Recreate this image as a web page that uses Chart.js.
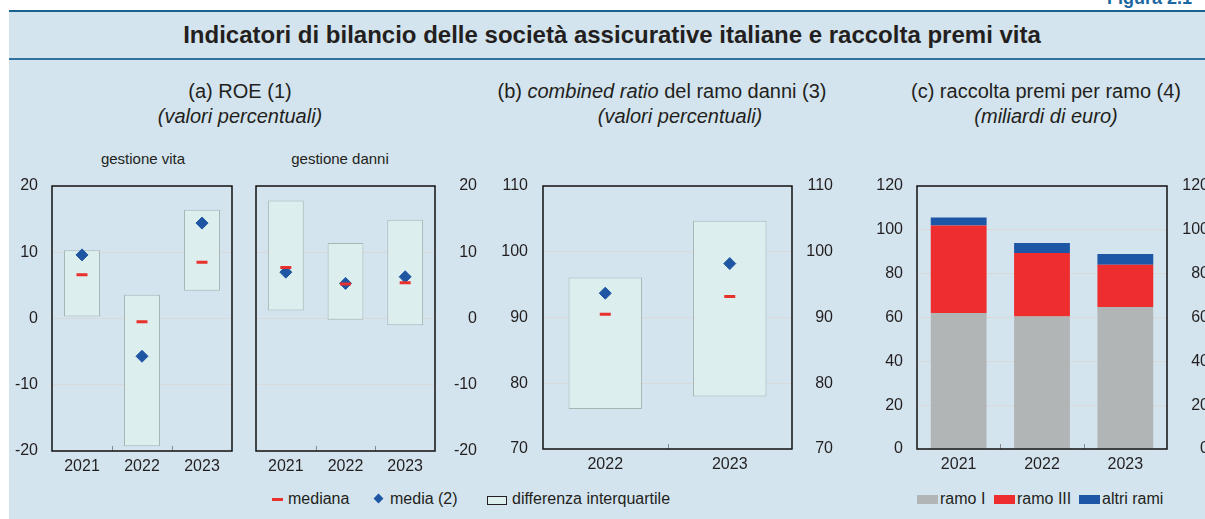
<!DOCTYPE html>
<html>
<head>
<meta charset="utf-8">
<script src="https://cdn.jsdelivr.net/npm/chart.js@4.4.1/dist/chart.umd.min.js"></script>
<style>
  body { margin: 0; width: 1205px; height: 519px; overflow: hidden; background: #fff; position: relative;
         font-family: "Liberation Sans", Arial, sans-serif; color: #231f20; }
  .t { position: absolute; white-space: nowrap; line-height: 1; }
  .c { transform: translateX(-50%); }
  canvas { position: absolute; }
</style>
</head>
<body>
<div style="position:absolute;left:9px;top:12px;width:1196px;height:507px;background:#d3e4ee"></div>
<div style="position:absolute;left:9px;top:10px;width:1196px;height:2px;background:#17628f"></div>
<div style="position:absolute;left:9px;top:58px;width:1196px;height:2px;background:#2f72a0"></div>
<div class="t" style="left:1107px;top:-11px;font-size:18px;font-weight:bold;color:#1b67a0">Figura 2.1</div>

<div class="t c" style="left:612px;top:23px;font-size:24px;font-weight:bold">Indicatori di bilancio delle società assicurative italiane e raccolta premi vita</div>

<div class="t c" style="left:240px;top:81px;font-size:20px">(a) ROE (1)</div>
<div class="t c" style="left:240px;top:106px;font-size:20px;font-style:italic">(valori percentuali)</div>
<div class="t c" style="left:662px;top:81px;font-size:20px">(b) <i>combined ratio</i> del ramo danni (3)</div>
<div class="t c" style="left:680px;top:106px;font-size:20px;font-style:italic">(valori percentuali)</div>
<div class="t c" style="left:1046px;top:81px;font-size:20px">(c) raccolta premi per ramo (4)</div>
<div class="t c" style="left:1046px;top:106px;font-size:20px;font-style:italic">(miliardi di euro)</div>

<div class="t c" style="left:143px;top:151px;font-size:15px">gestione vita</div>
<div class="t c" style="left:340px;top:151px;font-size:15px">gestione danni</div>

<canvas id="vita" width="245" height="300" style="left:0;top:176px"></canvas>
<canvas id="danni" width="240" height="300" style="left:245px;top:176px"></canvas>
<canvas id="combined" width="360" height="300" style="left:485px;top:176px"></canvas>
<canvas id="premi" width="355" height="300" style="left:860px;top:176px"></canvas>

<!-- legend a/b -->
<div style="position:absolute;left:272px;top:498px;width:11px;height:3px;background:#e8302d"></div>
<div class="t" style="left:288px;top:491px;font-size:16px">mediana</div>
<div style="position:absolute;left:375px;top:495px;width:7px;height:7px;background:#1f56a3;transform:rotate(45deg)"></div>
<div class="t" style="left:390px;top:491px;font-size:16px">media (2)</div>
<div style="position:absolute;left:487px;top:496px;width:18px;height:7px;background:#dcefee;border:1px solid #231f20"></div>
<div class="t" style="left:512px;top:491px;font-size:16px">differenza interquartile</div>

<!-- legend c -->
<div style="position:absolute;left:917px;top:495px;width:21px;height:9px;background:#b2b5b6"></div>
<div class="t" style="left:940px;top:491px;font-size:16px">ramo I</div>
<div style="position:absolute;left:994px;top:495px;width:21px;height:9px;background:#ee2e2e"></div>
<div class="t" style="left:1017px;top:491px;font-size:16px">ramo III</div>
<div style="position:absolute;left:1079px;top:495px;width:21px;height:9px;background:#1d56a5"></div>
<div class="t" style="left:1102px;top:491px;font-size:16px">altri rami</div>

<script>
// ROE, gestione vita
const years = ['2021', '2022', '2023'];
const vitaQ1 = [0.3, -19.3, 4.2];
const vitaQ3 = [10.3, 3.6, 16.4];
const vitaMedian = [6.6, -0.5, 8.5];
const vitaMean = [9.6, -5.7, 14.4];

// ROE, gestione danni
const danniQ1 = [1.2, -0.2, -1.0];
const danniQ3 = [17.8, 11.4, 14.9];
const danniMedian = [7.7, 5.2, 5.4];
const danniMean = [7.0, 5.3, 6.3];

// combined ratio
const crYears = ['2022', '2023'];
const crQ1 = [76.1, 78.0];
const crQ3 = [96.1, 104.7];
const crMedian = [90.5, 93.2];
const crMean = [93.7, 98.2];

// raccolta premi
const ramoI = [62.0, 60.4, 64.8];
const ramoIII = [40.0, 29.0, 19.3];
const altriRami = [3.6, 4.6, 4.9];

Chart.defaults.font.family = '"Liberation Sans", Arial, sans-serif';
Chart.defaults.font.size = 16;
Chart.defaults.color = '#231f20';
Chart.defaults.animation = false;

// black frame round the plot area + little ticks between categories
const frame = {
  id: 'frame',
  afterDraw(chart) {
    const { ctx, chartArea: a, scales: { x } } = chart;
    ctx.save();
    ctx.strokeStyle = '#8a8a8a';
    ctx.lineWidth = 1;
    for (let i = 0; i < x.ticks.length - 1; i++) {
      const px = Math.round((x.getPixelForTick(i) + x.getPixelForTick(i + 1)) / 2) + 0.5;
      ctx.beginPath();
      ctx.moveTo(px, a.bottom);
      ctx.lineTo(px, a.bottom - 5);
      ctx.stroke();
    }
    ctx.strokeStyle = '#111';
    ctx.lineWidth = 1.5;
    ctx.strokeRect(a.left, a.top, a.width, a.height);
    ctx.restore();
  }
};

function yAxis(min, max, step, position, width, padding, showGrid) {
  return {
    position: position,
    min: min,
    max: max,
    ticks: { stepSize: step, padding: padding, crossAlign: position === 'right' ? 'far' : 'near' },
    grid: { display: showGrid, color: '#d9d9d9', drawTicks: false },
    border: { display: false },
    afterFit(s) {
      s.width = width;
      s.paddingTop = 0;
      s.paddingBottom = 0;
    }
  };
}

function xAxis(height) {
  return {
    grid: { display: false, drawTicks: false },
    border: { display: false },
    ticks: { padding: 6 },
    afterFit(s) {
      s.height = height;
      s.paddingLeft = 0;
      s.paddingRight = 0;
    }
  };
}

function boxChart(id, labels, q1, q3, median, mean, scales, padding, barPct) {
  const boxes = labels.map((l, i) => [q1[i], q3[i]]);
  return new Chart(document.getElementById(id), {
    type: 'bar',
    data: {
      labels: labels,
      datasets: [
        {
          type: 'line', label: 'mediana', data: median, showLine: false,
          pointStyle: 'line', pointRadius: 5.5, borderWidth: 3,
          borderColor: '#e8302d', backgroundColor: '#e8302d'
        },
        {
          type: 'line', label: 'media (2)', data: mean, showLine: false,
          pointStyle: 'rectRot', pointRadius: 6, borderWidth: 1,
          borderColor: '#1f56a3', backgroundColor: '#1f56a3'
        },
        {
          type: 'bar', label: 'differenza interquartile', data: boxes,
          backgroundColor: '#dcefee', borderColor: '#a9b6b6', borderWidth: 1,
          borderSkipped: false, barPercentage: barPct, categoryPercentage: 1
        }
      ]
    },
    options: {
      responsive: false,
      layout: { padding: padding },
      plugins: { legend: { display: false }, tooltip: { enabled: false } },
      scales: scales
    },
    plugins: [frame]
  });
}

boxChart('vita', years, vitaQ1, vitaQ3, vitaMedian, vitaMean,
  { x: xAxis(25), y: yAxis(-20, 20, 10, 'left', 52, 14, true) },
  { left: 0, top: 10, right: 13, bottom: 0 }, 0.6);

boxChart('danni', years, danniQ1, danniQ3, danniMedian, danniMean,
  { x: xAxis(25), y: yAxis(-20, 20, 10, 'right', 42, 14, true) },
  { left: 11, top: 10, right: 8, bottom: 0 }, 0.6);

boxChart('combined', crYears, crQ1, crQ3, crMedian, crMean,
  { x: xAxis(27), y: yAxis(70, 110, 10, 'left', 58, 15, true), y2: yAxis(70, 110, 10, 'right', 41, 14, false) },
  { left: 0, top: 10, right: 12, bottom: 0 }, 0.59);

const premiScales = {
  x: Object.assign(xAxis(27), { stacked: true }),
  y: Object.assign(yAxis(0, 120, 20, 'left', 57, 14, true), { stacked: true }),
  y2: yAxis(0, 120, 20, 'right', 42, 14, false)
};

new Chart(document.getElementById('premi'), {
  type: 'bar',
  data: {
    labels: years,
    datasets: [
      { label: 'ramo I', data: ramoI, backgroundColor: '#b2b5b6', barPercentage: 0.67, categoryPercentage: 1 },
      { label: 'ramo III', data: ramoIII, backgroundColor: '#ee2e2e', barPercentage: 0.67, categoryPercentage: 1 },
      { label: 'altri rami', data: altriRami, backgroundColor: '#1d56a5', barPercentage: 0.67, categoryPercentage: 1 }
    ]
  },
  options: {
    responsive: false,
    layout: { padding: { left: 0, top: 10, right: 6, bottom: 0 } },
    plugins: { legend: { display: false }, tooltip: { enabled: false } },
    scales: premiScales
  },
  plugins: [frame]
});
</script>
</body>
</html>
